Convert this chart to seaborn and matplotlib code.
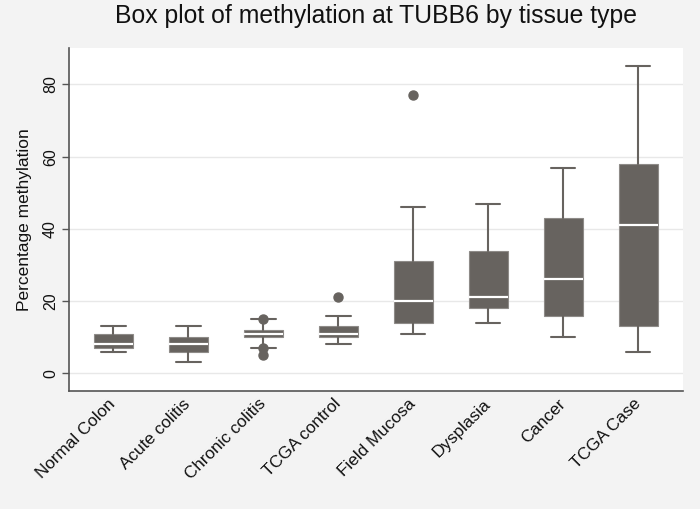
import matplotlib
matplotlib.use("Agg")
import matplotlib.pyplot as plt
import seaborn as sns

# ---- data ----
categories = ["Normal Colon", "Acute colitis", "Chronic colitis", "TCGA control",
              "Field Mucosa", "Dysplasia", "Cancer", "TCGA Case"]
whisker_low = [6, 3, 7, 8, 11, 14, 10, 6]
q1 = [7, 6, 10, 10, 14, 18, 16, 13]
median = [8, 8, 11, 11, 20, 21, 26, 41]
q3 = [11, 10, 12, 13, 31, 34, 43, 58]
whisker_high = [13, 13, 15, 16, 46, 47, 57, 85]
outliers = [[], [], [15, 7, 5], [21], [77], [], [], []]
y_ticks = [0, 20, 40, 60, 80]

sns.set_theme(style="white")
plt.rcParams["font.family"] = ["Liberation Sans", "DejaVu Sans"]

BG = "#f3f3f3"
BOX = "#67635f"
TXT = "#111111"

fig = plt.figure(figsize=(7, 5.09), dpi=100, facecolor=BG)
ax = fig.add_axes([69 / 700, 1 - 391 / 509, (683 - 69) / 700, (391 - 48) / 509])
ax.set_facecolor("white")

stats = []
for i, c in enumerate(categories):
    stats.append(dict(label=c, whislo=whisker_low[i], q1=q1[i], med=median[i],
                      q3=q3[i], whishi=whisker_high[i], fliers=outliers[i]))

ax.bxp(stats, positions=range(len(categories)), widths=0.52, patch_artist=True,
       boxprops=dict(facecolor=BOX, edgecolor="#8e8b88", linewidth=0.8),
       medianprops=dict(color="white", linewidth=1.6),
       whiskerprops=dict(color=BOX, linewidth=1.5),
       capprops=dict(color=BOX, linewidth=1.5),
       flierprops=dict(marker="o", markerfacecolor=BOX, markeredgecolor=BOX,
                       markersize=6.5),
       capwidths=0.33, zorder=3)

ax.set_xlim(-0.59, 7.6)
ax.set_ylim(-4.9, 90.1)
ax.set_yticks(y_ticks)
ax.set_yticklabels([str(v) for v in y_ticks], rotation=90, va="center",
                   fontsize=11.5, color=TXT)
ax.set_xticks(range(len(categories)))
ax.set_xticklabels(categories, rotation=45, ha="right", va="center",
                   rotation_mode="anchor", fontsize=12.3, color=TXT)
ax.tick_params(axis="x", length=0, pad=7.5)
ax.tick_params(axis="y", length=5, width=1, color="#555555", left=True, pad=3)

for v in y_ticks:
    ax.axhline(v, color="#e8e8e8", linewidth=1, zorder=0)

for s in ["top", "right"]:
    ax.spines[s].set_visible(False)
for s in ["left", "bottom"]:
    ax.spines[s].set_color("#555555")
    ax.spines[s].set_linewidth(1.2)

ax.set_ylabel("Percentage methylation", fontsize=12.5, color=TXT, labelpad=8)
fig.text(376 / 700, 1 - 23 / 509, "Box plot of methylation at TUBB6 by tissue type",
         ha="center", va="baseline", fontsize=17.8, color=TXT)

fig.savefig("out.png", dpi=100, facecolor=BG)
